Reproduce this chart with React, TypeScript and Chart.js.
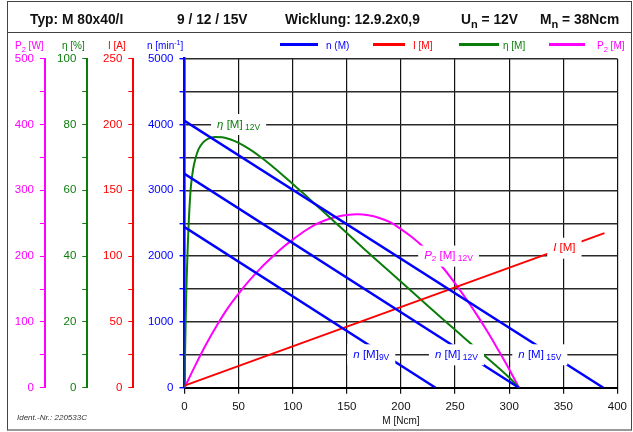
import React, { useEffect, useRef } from 'react';
import { Chart, registerables } from 'chart.js';

Chart.register(...registerables);

const FONT = "'Liberation Sans', Arial, Helvetica, sans-serif";
const BLUE = '#0000ff';
const RED = '#ff0000';
const GREEN = '#0b7d0b';
const MAGENTA = '#ff00ff';

// Speed lines n(M) for 9 / 12 / 15 V  [M in Ncm, n in 1/min]
const torque9V = [0, 232];
const speed9V = [2440, 0];
const torque12V = [0, 309];
const speed12V = [3250, 0];
const torque15V = [0, 387];
const speed15V = [4055, 0];

// Current I(M) [A]
const currentTorque = [0, 388];
const currentValues = [1.6, 117.5];

// Efficiency eta(M) at 12 V [%]
const effTorque = [0, 0.5, 1, 1.5, 2, 3, 4, 5, 6, 8, 10, 13, 17, 22, 28, 35, 42, 50, 60, 70, 80, 90, 100, 110, 120, 130, 140, 150, 160, 175, 200, 225, 250, 275, 300, 309];
const effValues = [0, 10, 19, 27, 33, 43, 51, 57, 61.5, 66.5, 69.5, 72.5, 74.5, 75.7, 76.2, 76.1, 75.5, 74.4, 72.5, 70.2, 67.6, 64.8, 61.9, 59, 56, 53, 50, 47, 44, 39.5, 32.2, 24.8, 17.6, 10.4, 3.1, 0];

// Output power P2(M) at 12 V [W]
const powerTorque = [0, 10, 20, 30, 40, 50, 60, 70, 80, 90, 100, 110, 120, 130, 140, 150, 160, 170, 180, 190, 200, 210, 220, 230, 240, 250, 260, 270, 280, 290, 300, 309];
const powerValues = [0, 34, 66, 95, 121, 143, 163, 181, 197, 212, 225, 237, 247, 254.5, 259.5, 262.5, 263.5, 262, 258, 251.5, 241, 229, 215, 198.5, 180, 158.5, 135.5, 111, 85, 57, 28, 0];

// Axis ranges [min, max, tick step, label step]
const xRange = [0, 400, 50];
const nRange = [0, 5000, 500, 1000];
const iRange = [0, 250, 25, 50];
const etaRange = [0, 100, 10, 20];
const pRange = [0, 500, 50, 100];

// In-plot curve labels (anchored in data units: M, n-axis)
const curveLabels = [
  { sym: 'η', symSub: '', rest: ' [M]', sub: ' 12V', m: 50, n: 4000, color: GREEN },
  { sym: 'P', symSub: '2', rest: ' [M]', sub: ' 12V', m: 244, n: 2000, color: MAGENTA },
  { sym: 'I', symSub: '', rest: ' [M]', sub: '', m: 351, n: 2120, color: RED },
  { sym: 'n', symSub: '', rest: ' [M]', sub: '9V', m: 172.6, n: 500, color: BLUE },
  { sym: 'n', symSub: '', rest: ' [M]', sub: ' 12V', m: 251.3, n: 500, color: BLUE },
  { sym: 'n', symSub: '', rest: ' [M]', sub: ' 15V', m: 328.3, n: 500, color: BLUE },
];

const pts = (xs: number[], ys: number[]) => xs.map((x, i) => ({ x, y: ys[i] }));

const labelPlugin = {
  id: 'curveLabels',
  afterDatasetsDraw(chart: any) {
    const ctx = chart.ctx as CanvasRenderingContext2D;
    const xs = chart.scales.x;
    const ys = chart.scales.yN;
    ctx.save();
    ctx.textBaseline = 'middle';
    ctx.textAlign = 'left';
    curveLabels.forEach((l) => {
      const cx = xs.getPixelForValue(l.m);
      const cy = ys.getPixelForValue(l.n);
      const parts = [
        { t: l.sym, f: `italic 11.5px ${FONT}`, dy: 0 },
        { t: l.symSub, f: `8px ${FONT}`, dy: 3 },
        { t: l.rest, f: `11.5px ${FONT}`, dy: 0 },
        { t: l.sub, f: `8.5px ${FONT}`, dy: 3 },
      ].filter((p) => p.t);
      let w = 0;
      const widths = parts.map((p) => {
        ctx.font = p.f;
        const mw = ctx.measureText(p.t).width;
        w += mw;
        return mw;
      });
      const padX = 6;
      const h = 21;
      ctx.fillStyle = '#ffffff';
      ctx.fillRect(cx - w / 2 - padX, cy - h / 2, w + padX * 2, h);
      let x = cx - w / 2;
      ctx.fillStyle = l.color;
      parts.forEach((p, i) => {
        ctx.font = p.f;
        ctx.fillText(p.t, x, cy + p.dy);
        x += widths[i];
      });
    });
    ctx.restore();
  },
};

function leftAxis(range: number[], color: string, width: number, weight: number, grid: boolean) {
  return {
    type: 'linear',
    position: 'left',
    min: range[0],
    max: range[1],
    weight,
    afterFit: (s: any) => {
      s.width = width;
    },
    border: { display: true, color, width: grid ? 2.5 : 2 },
    grid: {
      display: true,
      drawOnChartArea: grid,
      drawTicks: true,
      tickLength: 5,
      color: grid ? '#2a2a2a' : color,
      tickColor: color,
      lineWidth: grid ? 1.4 : 1,
    },
    ticks: {
      stepSize: range[2],
      autoSkip: false,
      padding: 6,
      color,
      font: { size: 11.5, family: FONT },
      callback: (v: number) => (v % range[3] === 0 ? String(v) : ''),
    },
  };
}

export default function App() {
  const ref = useRef<HTMLCanvasElement>(null);

  useEffect(() => {
    document.body.style.margin = '0';
    Chart.defaults.font.family = FONT;
    const lineDs = (label: string, data: any[], color: string, axis: string, w: number, smooth: boolean) => ({
      label,
      data,
      borderColor: color,
      backgroundColor: color,
      borderWidth: w,
      pointRadius: 0,
      yAxisID: axis,
      cubicInterpolationMode: smooth ? 'monotone' : 'default',
      tension: 0,
      fill: false,
    });
    const chart = new Chart(ref.current as HTMLCanvasElement, {
      type: 'line',
      data: {
        datasets: [
          lineDs('n 9V', pts(torque9V, speed9V), BLUE, 'yN', 2.5, false),
          lineDs('n 12V', pts(torque12V, speed12V), BLUE, 'yN', 2.5, false),
          lineDs('n 15V', pts(torque15V, speed15V), BLUE, 'yN', 2.5, false),
          lineDs('I', pts(currentTorque, currentValues), RED, 'yI', 2, false),
          lineDs('eta', pts(effTorque, effValues), GREEN, 'yEta', 2, true),
          lineDs('P2', pts(powerTorque, powerValues), MAGENTA, 'yP', 2, true),
        ] as any,
      },
      options: {
        animation: false,
        responsive: false,
        parsing: true,
        layout: { padding: { left: 10, right: 12.5, top: 58.7, bottom: 2.5 } },
        plugins: {
          legend: { display: false },
          tooltip: { enabled: false },
          title: { display: false },
        },
        scales: {
          x: {
            type: 'linear',
            position: 'bottom',
            min: xRange[0],
            max: xRange[1],
            afterFit: (s: any) => {
              s.height = 41.8;
            },
            border: { display: true, color: '#000', width: 2 },
            grid: { color: '#111', lineWidth: 1.2, tickLength: 6, tickColor: '#111' },
            ticks: { stepSize: xRange[2], autoSkip: false, padding: 6, color: '#111', font: { size: 11.5, family: FONT }, maxRotation: 0 },
            title: { display: true, text: 'M [Ncm]', color: '#111', font: { size: 10, family: FONT }, padding: { top: 0, bottom: 2 } },
          },
          yN: leftAxis(nRange, BLUE, 51.2, 0, true),
          yI: leftAxis(iRange, RED, 46, 1, false),
          yEta: leftAxis(etaRange, GREEN, 42.3, 2, false),
          yP: leftAxis(pRange, MAGENTA, 35, 3, false),
        } as any,
      },
      plugins: [labelPlugin],
    });
    return () => chart.destroy();
  }, []);

  const abs = (s: React.CSSProperties): React.CSSProperties => ({ position: 'absolute', whiteSpace: 'nowrap', ...s });
  const headerStyle = (left: number): React.CSSProperties =>
    abs({ left, top: 12, fontSize: 13.8, fontWeight: 'bold', lineHeight: '16px', color: '#111' });
  const subStyle: React.CSSProperties = { fontSize: '0.8em', position: 'relative', top: 4, verticalAlign: 'baseline' };
  const smallSub: React.CSSProperties = { fontSize: '0.75em', position: 'relative', top: 3, verticalAlign: 'baseline' };
  const titleStyle = (left: number, color: string): React.CSSProperties =>
    abs({ left, top: 39, fontSize: 10, lineHeight: '14px', color });
  const legLine = (left: number, width: number, color: string): React.CSSProperties =>
    abs({ left, top: 43, width, height: 3, background: color });

  return (
    <div style={{ position: 'absolute', left: 0, top: 0, width: 633, height: 432, fontFamily: FONT, background: '#fff', overflow: 'hidden' }}>
      <canvas ref={ref} width={633} height={432} style={{ position: 'absolute', left: 0, top: 0, width: 633, height: 432 }} />
      {/* frame */}
      <div style={abs({ left: 7, top: 1, width: 625, height: 430, boxSizing: 'border-box', borderTop: '1.5px solid #444', borderLeft: '1.5px solid #444', borderRight: '1.5px solid #444', borderBottom: '2px solid #9a9a9a' })} />
      <div style={abs({ left: 7, top: 31.5, width: 625, height: 1.5, background: '#444' })} />
      {/* header */}
      <div style={headerStyle(30)}>Typ: M 80x40/I</div>
      <div style={headerStyle(177)}>9 / 12 / 15V</div>
      <div style={headerStyle(285)}>Wicklung: 12.9.2x0,9</div>
      <div style={headerStyle(461)}>U<span style={subStyle}>n</span> = 12V</div>
      <div style={headerStyle(540)}>M<span style={subStyle}>n</span> = 38Ncm</div>
      {/* axis titles */}
      <div style={titleStyle(15, MAGENTA)}>P<span style={smallSub}>2</span> [W]</div>
      <div style={titleStyle(62, GREEN)}>η [%]</div>
      <div style={titleStyle(108, RED)}>I [A]</div>
      <div style={titleStyle(147, BLUE)}>n [min<sup style={{ fontSize: '0.7em', verticalAlign: 'baseline', position: 'relative', top: -4 }}>-1</sup>]</div>
      {/* legend */}
      <div style={legLine(280, 38, BLUE)} />
      <div style={titleStyle(326, BLUE)}>n (M)</div>
      <div style={legLine(373, 32, RED)} />
      <div style={titleStyle(413, RED)}>I [M]</div>
      <div style={legLine(459, 40, GREEN)} />
      <div style={titleStyle(503, GREEN)}>η [M]</div>
      <div style={legLine(549, 36, MAGENTA)} />
      <div style={titleStyle(597, MAGENTA)}>P<span style={smallSub}>2</span> [M]</div>
      {/* ident */}
      <div style={abs({ left: 17, top: 412, fontSize: 8, fontStyle: 'italic', lineHeight: '12px', color: '#333' })}>Ident.-Nr.: 220533C</div>
    </div>
  );
}
